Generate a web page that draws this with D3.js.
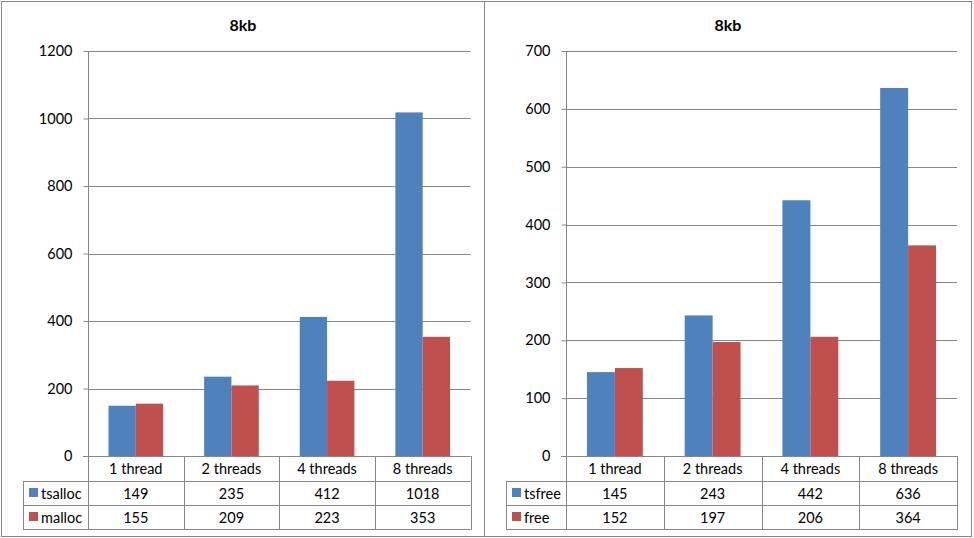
<!DOCTYPE html>
<html>
<head>
<meta charset="utf-8">
<script src="https://cdn.jsdelivr.net/npm/d3@7"></script>
<style>
  body { margin: 0; background: #fff; }
  svg text { font-family: Lato, "Open Sans", sans-serif; font-size: 14.5px; fill: #000; }
</style>
</head>
<body>
<svg id="chart" width="974" height="538"></svg>
<script>
// data
var categories = ["1 thread", "2 threads", "4 threads", "8 threads"];

var allocSeries = ["tsalloc", "malloc"];
var tsallocValues = [149, 235, 412, 1018];
var mallocValues = [155, 209, 223, 353];
var allocTicks = [0, 200, 400, 600, 800, 1000, 1200];

var freeSeries = ["tsfree", "free"];
var tsfreeValues = [145, 243, 442, 636];
var freeValues = [152, 197, 206, 364];
var freeTicks = [0, 100, 200, 300, 400, 500, 600, 700];

var colors = ["#4F81BD", "#C0504D"];
var lineColor = "#868686";

var svg = d3.select("#chart");

drawPanel({
  x0: 1.5, x1: 484.5, title: "8kb",
  plotLeft: 88, plotRight: 470.5, tableLeft: 23,
  series: allocSeries, values: [tsallocValues, mallocValues], ticks: allocTicks
});
drawPanel({
  x0: 484.5, x1: 971.5, title: "8kb",
  plotLeft: 566, plotRight: 957, tableLeft: 506,
  series: freeSeries, values: [tsfreeValues, freeValues], ticks: freeTicks
});

function drawPanel(c) {
  var top = 51, bottom = 456;
  var rowH = [456, 481, 505, 529];

  var g = svg.append("g");

  // panel border
  g.append("rect")
    .attr("x", c.x0).attr("y", 1.5)
    .attr("width", c.x1 - c.x0).attr("height", 535)
    .attr("fill", "none").attr("stroke", lineColor).attr("stroke-width", 1);

  // title
  g.append("text")
    .attr("x", (c.x0 + c.x1) / 2).attr("y", 24)
    .attr("text-anchor", "middle").attr("dominant-baseline", "central")
    .style("font-weight", "bold").style("font-size", "16px")
    .text(c.title);

  var y = d3.scaleLinear()
    .domain([0, d3.max(c.ticks)])
    .range([bottom, top]);

  var x = d3.scaleBand()
    .domain(categories)
    .range([c.plotLeft, c.plotRight])
    .padding(0);

  var xs = d3.scaleBand()
    .domain(c.series)
    .range([0, x.bandwidth()])
    .paddingInner(0)
    .paddingOuter(0.75);

  // gridlines
  g.append("g").selectAll("line")
    .data(c.ticks.filter(function(t) { return t > 0; }))
    .enter().append("line")
    .attr("x1", c.plotLeft).attr("x2", c.plotRight)
    .attr("y1", function(d) { return Math.round(y(d)) + 0.5; })
    .attr("y2", function(d) { return Math.round(y(d)) + 0.5; })
    .attr("stroke", lineColor);

  // bars
  c.series.forEach(function(s, si) {
    g.append("g").selectAll("rect")
      .data(c.values[si])
      .enter().append("rect")
      .attr("x", function(d, i) { return x(categories[i]) + xs(s); })
      .attr("width", xs.bandwidth())
      .attr("y", function(d) { return y(d); })
      .attr("height", function(d) { return bottom - y(d); })
      .attr("fill", colors[si]);
  });

  // y axis
  var axis = d3.axisLeft(y)
    .tickValues(c.ticks)
    .tickSize(5)
    .tickPadding(11)
    .tickFormat(d3.format("d"));
  var ag = g.append("g")
    .attr("transform", "translate(" + (c.plotLeft + 0.5) + ",0)")
    .call(axis);
  ag.select(".domain").attr("stroke", lineColor).attr("d", "M0," + top + "V" + bottom);
  ag.selectAll(".tick line").attr("stroke", lineColor);
  ag.selectAll(".tick text").attr("fill", "#000")
    .style("font-family", "Lato, 'Open Sans', sans-serif").style("font-size", "14.5px");

  // data table
  var tg = g.append("g");
  var hl = function(x1, x2, yy) {
    tg.append("line").attr("x1", x1).attr("x2", x2)
      .attr("y1", yy + 0.5).attr("y2", yy + 0.5).attr("stroke", lineColor);
  };
  var vl = function(xx, y1, y2) {
    tg.append("line").attr("x1", Math.round(xx) + 0.5).attr("x2", Math.round(xx) + 0.5)
      .attr("y1", y1).attr("y2", y2).attr("stroke", lineColor);
  };
  hl(c.plotLeft - 5, c.plotRight, rowH[0]);
  hl(c.tableLeft, c.plotRight, rowH[1]);
  hl(c.tableLeft, c.plotRight, rowH[2]);
  hl(c.tableLeft, c.plotRight, rowH[3]);
  vl(c.tableLeft, rowH[1], rowH[3] + 1);
  categories.forEach(function(cat) { vl(x(cat), rowH[0], rowH[3] + 1); });
  vl(c.plotRight, rowH[0], rowH[3] + 1);

  // category header
  tg.selectAll("text.cat")
    .data(categories)
    .enter().append("text")
    .attr("class", "cat")
    .attr("x", function(d) { return x(d) + x.bandwidth() / 2; })
    .attr("y", (rowH[0] + rowH[1]) / 2)
    .attr("text-anchor", "middle").attr("dominant-baseline", "central")
    .text(function(d) { return d; });

  // series rows
  c.series.forEach(function(s, si) {
    var cy = (rowH[si + 1] + rowH[si + 2]) / 2;
    tg.append("rect")
      .attr("x", c.tableLeft + 6).attr("y", cy - 5)
      .attr("width", 9).attr("height", 9)
      .attr("fill", colors[si]);
    tg.append("text")
      .attr("x", c.tableLeft + 18).attr("y", cy)
      .attr("dominant-baseline", "central")
      .text(s);
    tg.selectAll("text.v" + si)
      .data(c.values[si])
      .enter().append("text")
      .attr("class", "v" + si)
      .attr("x", function(d, i) { return x(categories[i]) + x.bandwidth() / 2; })
      .attr("y", cy)
      .attr("text-anchor", "middle").attr("dominant-baseline", "central")
      .text(function(d) { return d; });
  });
}
</script>
</body>
</html>
